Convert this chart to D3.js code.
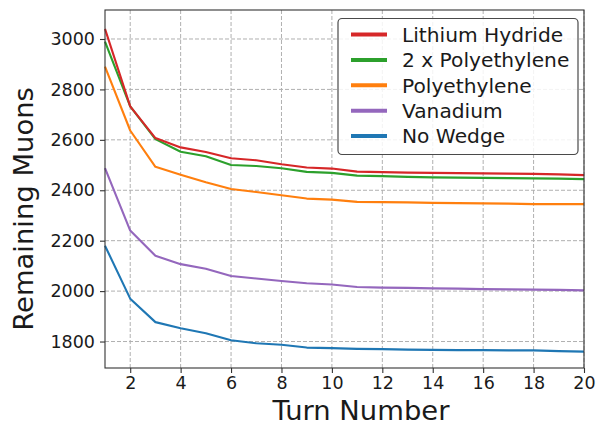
<!DOCTYPE html>
<html lang="en">
<head>
    <meta charset="UTF-8">
    <title>Remaining Muons</title>
    <script src="https://cdn.jsdelivr.net/npm/d3@7"></script>
    <style>
        body { margin: 0; background: #ffffff; }
        text { font-family: "DejaVu Sans", sans-serif; fill: #1a1a1a; }
    </style>
</head>
<body>
<div id="chart"></div>
<script>
    // remaining muons per turn
    const turns = d3.range(1, 21);
    const lithiumHydride = [3040, 2733, 2607, 2570, 2552, 2527, 2519, 2503, 2490, 2486, 2474, 2472, 2470, 2469, 2468, 2467, 2466, 2465, 2463, 2460];
    const polyethylene2x = [2990, 2733, 2603, 2553, 2535, 2500, 2496, 2487, 2473, 2469, 2458, 2456, 2453, 2451, 2450, 2449, 2448, 2447, 2446, 2444];
    const polyethylene = [2890, 2637, 2493, 2462, 2432, 2405, 2393, 2380, 2367, 2363, 2354, 2353, 2352, 2350, 2349, 2348, 2347, 2345, 2345, 2345];
    const vanadium = [2488, 2240, 2140, 2107, 2089, 2060, 2050, 2040, 2031, 2026, 2016, 2014, 2013, 2011, 2010, 2008, 2007, 2006, 2005, 2003];
    const noWedge = [2180, 1970, 1877, 1853, 1833, 1805, 1793, 1787, 1776, 1774, 1771, 1770, 1768, 1767, 1766, 1766, 1765, 1765, 1762, 1760];

    const seriesNames = ["Lithium Hydride", "2 x Polyethylene", "Polyethylene", "Vanadium", "No Wedge"];
    const seriesValues = [lithiumHydride, polyethylene2x, polyethylene, vanadium, noWedge];
    const seriesColors = ["#d62728", "#2ca02c", "#ff7f0e", "#9467bd", "#1f77b4"];
    const xTicks = [2, 4, 6, 8, 10, 12, 14, 16, 18, 20];
    const yTicks = [1800, 2000, 2200, 2400, 2600, 2800, 3000];

    const W = 597, H = 426;
    const plot = {left: 105, right: 584, top: 10, bottom: 368};

    const svg = d3.select("#chart").append("svg")
        .attr("width", W)
        .attr("height", H);

    const x = d3.scaleLinear().domain([1, 20]).range([plot.left, plot.right]);
    const y = d3.scaleLinear().domain([1695, 3115]).range([plot.bottom, plot.top]);

    // grid
    const grid = svg.append("g")
        .attr("stroke", "#b0b0b0")
        .attr("stroke-width", 1)
        .attr("stroke-dasharray", "4,2");
    grid.selectAll(".gx").data(xTicks).enter().append("line")
        .attr("x1", d => x(d)).attr("x2", d => x(d))
        .attr("y1", plot.top).attr("y2", plot.bottom);
    grid.selectAll(".gy").data(yTicks).enter().append("line")
        .attr("x1", plot.left).attr("x2", plot.right)
        .attr("y1", d => y(d)).attr("y2", d => y(d));

    // lines, last legend entry drawn first
    const line = d3.line().x((d, i) => x(turns[i])).y(d => y(d));
    const order = d3.range(seriesNames.length).reverse();
    svg.append("g").selectAll("path")
        .data(order)
        .enter().append("path")
        .attr("d", i => line(seriesValues[i]))
        .attr("fill", "none")
        .attr("stroke", i => seriesColors[i])
        .attr("stroke-width", 2.1)
        .attr("stroke-linejoin", "round");

    // axes
    const xAxis = svg.append("g")
        .attr("transform", `translate(0,${plot.bottom})`)
        .call(d3.axisBottom(x).tickValues(xTicks).tickSize(5).tickPadding(4));
    const yAxis = svg.append("g")
        .attr("transform", `translate(${plot.left},0)`)
        .call(d3.axisLeft(y).tickValues(yTicks).tickSize(5).tickPadding(5).tickFormat(d3.format("d")));
    [xAxis, yAxis].forEach(g => {
        g.select(".domain").remove();
        g.selectAll(".tick line").attr("stroke", "#333").attr("stroke-width", 1.1);
        g.selectAll(".tick text")
            .style("font-family", "DejaVu Sans, sans-serif")
            .style("font-size", "17.5px")
            .attr("fill", "#1a1a1a");
    });

    // frame
    svg.append("rect")
        .attr("x", plot.left).attr("y", plot.top)
        .attr("width", plot.right - plot.left)
        .attr("height", plot.bottom - plot.top)
        .attr("fill", "none")
        .attr("stroke", "#333")
        .attr("stroke-width", 1.1);

    // axis titles
    svg.append("text")
        .attr("x", 361).attr("y", 420)
        .attr("text-anchor", "middle")
        .style("font-size", "27.4px")
        .text("Turn Number");
    svg.append("text")
        .attr("transform", "translate(33,209) rotate(-90)")
        .attr("text-anchor", "middle")
        .style("font-size", "27.4px")
        .text("Remaining Muons");

    // legend
    const legend = svg.append("g");
    legend.append("rect")
        .attr("x", 338).attr("y", 18.5)
        .attr("width", 240).attr("height", 136)
        .attr("rx", 4)
        .attr("fill", "rgba(255,255,255,0.85)")
        .attr("stroke", "#4a4a4a")
        .attr("stroke-width", 1.2);
    const rows = legend.selectAll(".row")
        .data(seriesNames)
        .enter().append("g")
        .attr("transform", (d, i) => `translate(0,${34.5 + i * 25.4})`);
    rows.append("line")
        .attr("x1", 351).attr("x2", 387)
        .attr("stroke", (d, i) => seriesColors[i])
        .attr("stroke-width", 4);
    rows.append("text")
        .attr("x", 402)
        .attr("dy", "0.36em")
        .style("font-size", "20.2px")
        .text(d => d);
</script>
</body>
</html>
